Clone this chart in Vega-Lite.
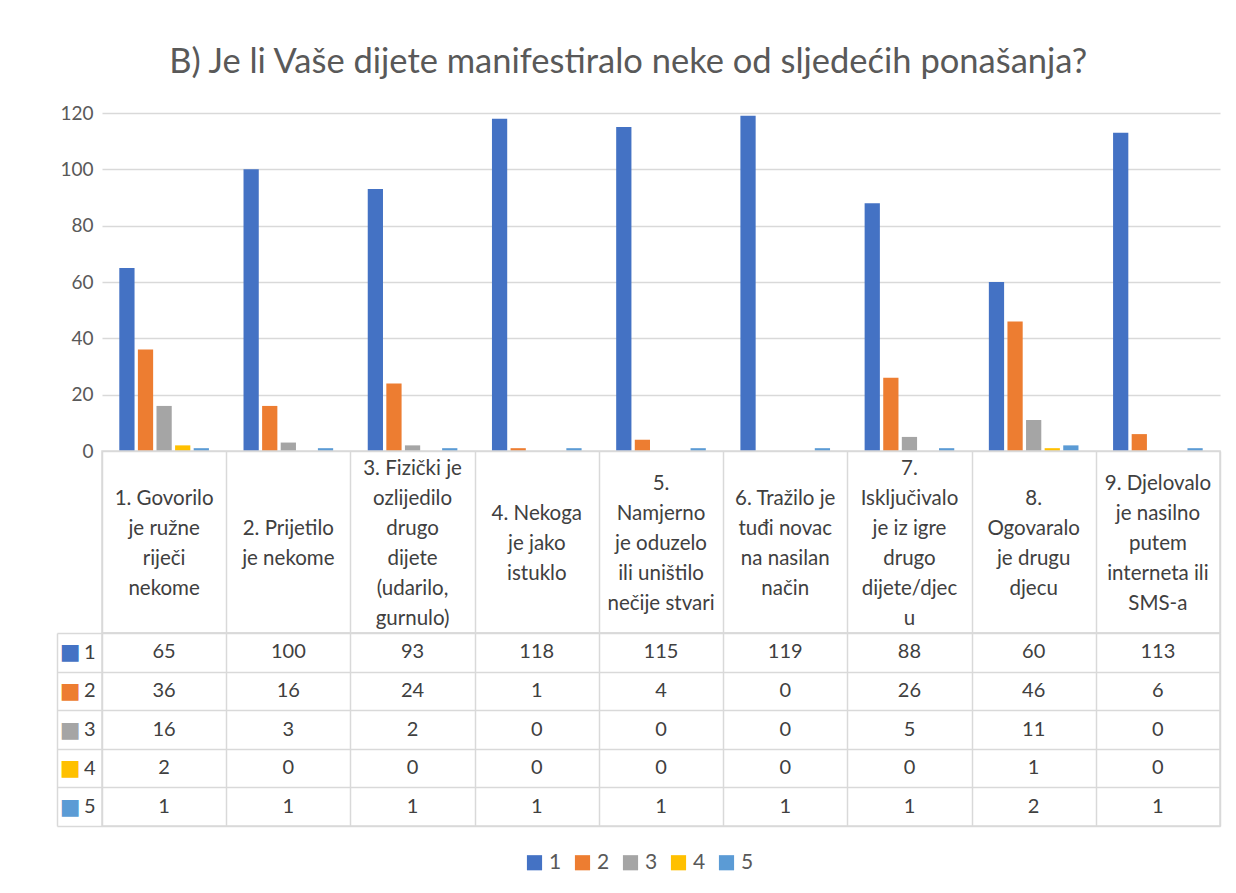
{
  "$schema": "https://vega.github.io/schema/vega-lite/v6.json",
  "padding": {"left": 55, "top": 44, "right": 18, "bottom": 10},
  "title": {"text": "B) Je li Vaše dijete manifestiralo neke od sljedećih ponašanja?", "font": "Lato", "fontSize": 34.5, "fontWeight": "normal", "color": "#595959", "anchor": "middle", "frame": "bounds", "offset": 24, "dx": -10},
  "data": {"values": [
    {"c": "1. Govorilo\nje ružne\nriječi\nnekome", "s": "1", "v": 65},
    {"c": "1. Govorilo\nje ružne\nriječi\nnekome", "s": "2", "v": 36},
    {"c": "1. Govorilo\nje ružne\nriječi\nnekome", "s": "3", "v": 16},
    {"c": "1. Govorilo\nje ružne\nriječi\nnekome", "s": "4", "v": 2},
    {"c": "1. Govorilo\nje ružne\nriječi\nnekome", "s": "5", "v": 1},
    {"c": "2. Prijetilo\nje nekome", "s": "1", "v": 100},
    {"c": "2. Prijetilo\nje nekome", "s": "2", "v": 16},
    {"c": "2. Prijetilo\nje nekome", "s": "3", "v": 3},
    {"c": "2. Prijetilo\nje nekome", "s": "4", "v": 0},
    {"c": "2. Prijetilo\nje nekome", "s": "5", "v": 1},
    {"c": "3. Fizički je\nozlijedilo\ndrugo\ndijete\n(udarilo,\ngurnulo)", "s": "1", "v": 93},
    {"c": "3. Fizički je\nozlijedilo\ndrugo\ndijete\n(udarilo,\ngurnulo)", "s": "2", "v": 24},
    {"c": "3. Fizički je\nozlijedilo\ndrugo\ndijete\n(udarilo,\ngurnulo)", "s": "3", "v": 2},
    {"c": "3. Fizički je\nozlijedilo\ndrugo\ndijete\n(udarilo,\ngurnulo)", "s": "4", "v": 0},
    {"c": "3. Fizički je\nozlijedilo\ndrugo\ndijete\n(udarilo,\ngurnulo)", "s": "5", "v": 1},
    {"c": "4. Nekoga\nje jako\nistuklo", "s": "1", "v": 118},
    {"c": "4. Nekoga\nje jako\nistuklo", "s": "2", "v": 1},
    {"c": "4. Nekoga\nje jako\nistuklo", "s": "3", "v": 0},
    {"c": "4. Nekoga\nje jako\nistuklo", "s": "4", "v": 0},
    {"c": "4. Nekoga\nje jako\nistuklo", "s": "5", "v": 1},
    {"c": "5.\nNamjerno\nje oduzelo\nili uništilo\nnečije stvari", "s": "1", "v": 115},
    {"c": "5.\nNamjerno\nje oduzelo\nili uništilo\nnečije stvari", "s": "2", "v": 4},
    {"c": "5.\nNamjerno\nje oduzelo\nili uništilo\nnečije stvari", "s": "3", "v": 0},
    {"c": "5.\nNamjerno\nje oduzelo\nili uništilo\nnečije stvari", "s": "4", "v": 0},
    {"c": "5.\nNamjerno\nje oduzelo\nili uništilo\nnečije stvari", "s": "5", "v": 1},
    {"c": "6. Tražilo je\ntuđi novac\nna nasilan\nnačin", "s": "1", "v": 119},
    {"c": "6. Tražilo je\ntuđi novac\nna nasilan\nnačin", "s": "2", "v": 0},
    {"c": "6. Tražilo je\ntuđi novac\nna nasilan\nnačin", "s": "3", "v": 0},
    {"c": "6. Tražilo je\ntuđi novac\nna nasilan\nnačin", "s": "4", "v": 0},
    {"c": "6. Tražilo je\ntuđi novac\nna nasilan\nnačin", "s": "5", "v": 1},
    {"c": "7.\nIsključivalo\nje iz igre\ndrugo\ndijete/djec\nu", "s": "1", "v": 88},
    {"c": "7.\nIsključivalo\nje iz igre\ndrugo\ndijete/djec\nu", "s": "2", "v": 26},
    {"c": "7.\nIsključivalo\nje iz igre\ndrugo\ndijete/djec\nu", "s": "3", "v": 5},
    {"c": "7.\nIsključivalo\nje iz igre\ndrugo\ndijete/djec\nu", "s": "4", "v": 0},
    {"c": "7.\nIsključivalo\nje iz igre\ndrugo\ndijete/djec\nu", "s": "5", "v": 1},
    {"c": "8.\nOgovaralo\nje drugu\ndjecu", "s": "1", "v": 60},
    {"c": "8.\nOgovaralo\nje drugu\ndjecu", "s": "2", "v": 46},
    {"c": "8.\nOgovaralo\nje drugu\ndjecu", "s": "3", "v": 11},
    {"c": "8.\nOgovaralo\nje drugu\ndjecu", "s": "4", "v": 1},
    {"c": "8.\nOgovaralo\nje drugu\ndjecu", "s": "5", "v": 2},
    {"c": "9. Djelovalo\nje nasilno\nputem\ninterneta ili\nSMS-a", "s": "1", "v": 113},
    {"c": "9. Djelovalo\nje nasilno\nputem\ninterneta ili\nSMS-a", "s": "2", "v": 6},
    {"c": "9. Djelovalo\nje nasilno\nputem\ninterneta ili\nSMS-a", "s": "3", "v": 0},
    {"c": "9. Djelovalo\nje nasilno\nputem\ninterneta ili\nSMS-a", "s": "4", "v": 0},
    {"c": "9. Djelovalo\nje nasilno\nputem\ninterneta ili\nSMS-a", "s": "5", "v": 1}
  ]},
  "bounds": "flush",
  "spacing": 0,
  "vconcat": [
    {
      "width": 1118,
      "height": 338,
      "view": {"stroke": null},
      "mark": {"type": "bar"},
      "encoding": {
        "x": {"field": "c", "type": "nominal", "sort": null, "scale": {"paddingInner": 0, "paddingOuter": 0},
              "axis": {"labels": false, "ticks": false, "title": null, "domain": false, "grid": false}},
        "xOffset": {"field": "s", "type": "nominal", "scale": {"paddingInner": 0.18, "paddingOuter": 0.93}},
        "y": {"field": "v", "type": "quantitative", "scale": {"domain": [0, 120]},
              "axis": {"values": [0, 20, 40, 60, 80, 100, 120], "title": null, "domain": false, "ticks": false,
                       "labelFontSize": 19, "labelColor": "#595959", "labelPadding": 9,
                       "gridColor": "#D9D9D9", "gridWidth": 1.5}},
        "color": {"field": "s", "type": "nominal", "title": null,
                  "scale": {"domain": ["1", "2", "3", "4", "5"], "range": ["#4472C4", "#ED7D31", "#A5A5A5", "#FFC000", "#5B9BD5"]},
                  "legend": {"orient": "none", "legendX": 422, "legendY": 739, "direction": "horizontal", "symbolType": "square", "symbolSize": 230,
                             "symbolStrokeWidth": 0, "labelFontSize": 21, "labelColor": "#595959", "columnPadding": 10, "labelOffset": 4}}
      }
    },
    {
      "width": 1118,
      "height": 182,
      "view": {"stroke": "#D9D9D9", "strokeWidth": 1.5},
      "transform": [{"filter": "datum.s == '1'"}],
      "mark": {"type": "text", "lineBreak": "\n", "lineHeight": 30, "fontSize": 20.5, "color": "#404040", "baseline": "middle",
               "dy": {"expr": "2 - 15 * (length(split(datum.c, '\\n')) - 1)"}},
      "encoding": {
        "x": {"field": "c", "type": "nominal", "sort": null, "scale": {"paddingInner": 0, "paddingOuter": 0},
              "axis": {"labels": false, "ticks": false, "domain": false, "title": null, "grid": true, "tickBand": "extent",
                       "gridColor": "#D9D9D9", "gridWidth": 1.5}},
        "text": {"field": "c"}
      }
    },
    {
      "width": 1118,
      "height": 193,
      "view": {"stroke": "#D9D9D9", "strokeWidth": 1.5},
      "encoding": {
        "x": {"field": "c", "type": "nominal", "sort": null, "scale": {"paddingInner": 0, "paddingOuter": 0},
              "axis": {"labels": false, "ticks": false, "domain": false, "title": null, "grid": true, "tickBand": "extent",
                       "gridColor": "#D9D9D9", "gridWidth": 1.5}}
      },
      "layer": [
        {
          "mark": {"type": "text", "fontSize": 20, "color": "#404040"},
          "encoding": {
            "text": {"field": "v", "type": "quantitative"},
            "y": {"field": "s", "type": "nominal", "scale": {"paddingInner": 0, "paddingOuter": 0},
                  "axis": {"title": null, "domain": false, "grid": true, "tickBand": "extent", "gridColor": "#D9D9D9", "gridWidth": 1.5,
                           "ticks": true, "tickSize": 45, "tickColor": "#D9D9D9", "tickWidth": 1.5,
                           "labelPadding": -38, "labelFontSize": 20, "labelColor": "#404040"}}
          }
        },
        {
          "mark": {"type": "text", "opacity": 0},
          "encoding": {
            "text": {"field": "v", "type": "quantitative"},
            "y": {"field": "s", "type": "nominal",
                  "axis": {"orient": "left", "offset": 45, "title": null, "domain": true, "domainColor": "#D9D9D9", "domainWidth": 1.5,
                           "ticks": false, "grid": false, "labelExpr": "'■'", "labelFont": "DejaVu Sans", "labelFontSize": 22, "labelPadding": -23,
                           "labelColor": {"condition": [
                             {"test": "datum.value == '1'", "value": "#4472C4"},
                             {"test": "datum.value == '2'", "value": "#ED7D31"},
                             {"test": "datum.value == '3'", "value": "#A5A5A5"},
                             {"test": "datum.value == '4'", "value": "#FFC000"}
                           ], "value": "#5B9BD5"}}}
          }
        }
      ],
      "resolve": {"axis": {"y": "independent"}}
    }
  ],
  "config": {"font": "Lato", "text": {"font": "Lato"}}
}
